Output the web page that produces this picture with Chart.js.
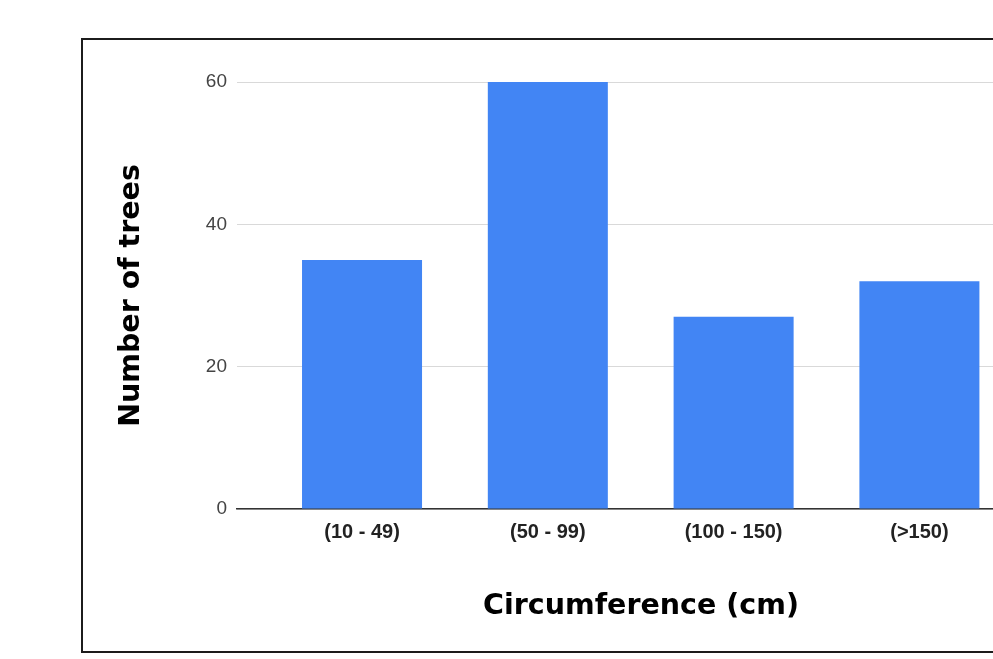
<!DOCTYPE html>
<html>
<head>
<meta charset="utf-8">
<script src="https://cdn.jsdelivr.net/npm/chart.js@4/dist/chart.umd.min.js"></script>
<style>
  html, body { margin: 0; padding: 0; background: #fff; overflow: hidden; width: 993px; height: 659px; }
  #frame { position: absolute; left: 81px; top: 38px; width: 1100px; height: 615px; box-sizing: border-box; border: 2px solid #1c1c1c; }
  #chart { position: absolute; left: 0; top: 0; }
</style>
</head>
<body>
<div id="frame"></div>
<canvas id="chart" width="1100" height="659"></canvas>
<script>
// Tree counts per trunk circumference class
const categories = ['(10 - 49)', '(50 - 99)', '(100 - 150)', '(>150)'];
const treeCounts = [35, 60, 27, 32];
const yTickValues = [0, 20, 40, 60];

const points = treeCounts.map((v, i) => ({ x: i, y: v }));

new Chart(document.getElementById('chart'), {
  type: 'bar',
  data: {
    datasets: [{
      data: points,
      backgroundColor: '#4285f4',
      borderWidth: 0,
      categoryPercentage: 1,
      barPercentage: 0.646
    }]
  },
  options: {
    responsive: false,
    animation: false,
    devicePixelRatio: 1,
    layout: { padding: { left: 0, top: 82, right: 55, bottom: 0 } },
    plugins: { legend: { display: false }, tooltip: { enabled: false } },
    scales: {
      x: {
        type: 'linear',
        offset: false,
        min: -0.673,
        max: 3.676,
        afterFit: (axis) => { axis.height = 150; },
        afterBuildTicks: (axis) => { axis.ticks = categories.map((_, i) => ({ value: i })); },
        grid: { display: false, drawTicks: false },
        border: { display: true, color: '#333', width: 1.5 },
        ticks: {
          autoSkip: false,
          maxRotation: 0,
          padding: 11,
          color: '#222',
          font: { family: 'Liberation Sans, Arial, sans-serif', size: 20, weight: 'bold' },
          callback: (value) => categories[value] ?? ''
        },
        title: {
          display: true,
          text: 'Circumference (cm)',
          color: '#000',
          font: { family: 'DejaVu Sans', size: 28.5, weight: 'bold' },
          padding: { top: 0, bottom: 35 }
        }
      },
      y: {
        min: 0,
        max: 60,
        afterFit: (axis) => { axis.width = 237; },
        afterBuildTicks: (axis) => { axis.ticks = yTickValues.map(v => ({ value: v })); },
        grid: { color: '#d9d9d9', lineWidth: 1, drawTicks: false },
        border: { display: false },
        ticks: {
          padding: 10,
          color: '#444',
          font: { family: 'Liberation Sans, Arial, sans-serif', size: 19 }
        },
        title: {
          display: true,
          text: 'Number of trees',
          color: '#000',
          font: { family: 'DejaVu Sans', size: 28.5, weight: 'bold' },
          padding: { top: 114, bottom: 0 }
        }
      }
    }
  }
});
</script>
</body>
</html>
